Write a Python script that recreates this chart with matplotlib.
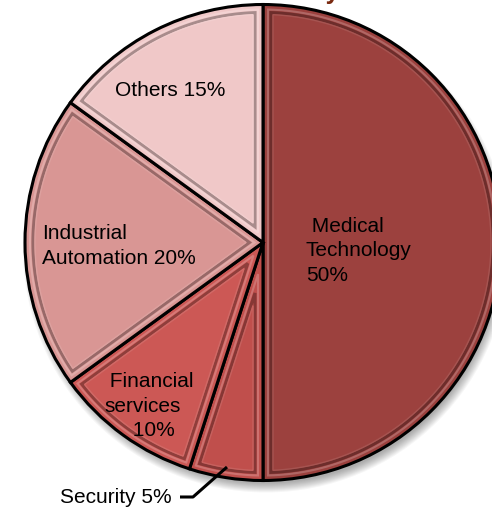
import numpy as np
import matplotlib.pyplot as plt
from matplotlib.patches import Polygon, Circle

plt.rcParams['font.family'] = ['Liberation Sans', 'DejaVu Sans']

# share of business by sector (percent)
sectors = ['Medical Technology', 'Security', 'Financial services',
           'Industrial Automation', 'Others']
shares = [50, 5, 10, 20, 15]
colors = ['#9C413E', '#C04F4C', '#CC5855', '#D99694', '#F0C8C8']
label_fmt = [' Medical\nTechnology\n{}%', 'Security {}%',
             ' Financial\nservices\n     {}%', 'Industrial\nAutomation {}%',
             'Others {}%']

W, H = 492, 509
CX, CY, R = 263, H - 242.5, 238


def shade(c, f):
    rgb = np.array(plt.matplotlib.colors.to_rgb(c))
    if f < 0:
        return tuple(rgb * (1 + f))
    return tuple(rgb + (1 - rgb) * f)


def inset_path(w, d):
    # wedge outline pulled inward by d pixels on every side
    t1, t2 = np.radians(w.theta1), np.radians(w.theta2)
    half = (t2 - t1) / 2
    mid = t1 + half
    cx, cy = w.center
    off = d / np.sin(half) if half < np.pi / 2 else d
    apex = (cx + off * np.cos(mid), cy + off * np.sin(mid))
    da = np.arcsin(d / (w.r - d))
    arc = np.linspace(t1 + da, t2 - da, 120)
    xs = np.r_[apex[0], cx + (w.r - d) * np.cos(arc)]
    ys = np.r_[apex[1], cy + (w.r - d) * np.sin(arc)]
    return np.c_[xs, ys]


fig = plt.figure(figsize=(W / 100, H / 100), dpi=100)
ax = fig.add_axes([0, 0, 1, 1])

# soft drop shadow
for k in range(10):
    ax.add_patch(Circle((CX + 3, CY - 7), R + 5 - k, color='#000000',
                        alpha=0.035, lw=0, zorder=0))

wedges, _ = ax.pie(shares, colors=colors, startangle=90, counterclock=False,
                   center=(CX, CY), radius=R,
                   wedgeprops=dict(edgecolor='black', linewidth=2.2))
for w in wedges:
    w.set_zorder(1)

# bevelled inner frame on each slice
for w, c in zip(wedges, colors):
    ax.add_patch(Polygon(inset_path(w, 5), closed=True, fill=False,
                         edgecolor=shade(c, 0.2), lw=1.5, zorder=2))
    ax.add_patch(Polygon(inset_path(w, 8), closed=True, fill=False,
                         edgecolor=shade(c, -0.3), lw=2.2, zorder=2))
    ax.add_patch(Polygon(inset_path(w, 10), closed=True, fill=False,
                         edgecolor=shade(c, 0.1), lw=1, zorder=2))

# label anchors: left edge and first baseline, in pixels from top-left
anchors = [(306, 232), (60, 503), (104, 387), (42, 239), (115, 96)]
step = 24.5
for fmt, v, (x, y) in zip(label_fmt, shares, anchors):
    for i, line in enumerate(fmt.format(v).split('\n')):
        ax.text(x, H - (y + i * step), line, fontsize=15, color='black',
                ha='left', va='baseline', zorder=5)

# leader for the small slice
ax.plot([180, 193, 227], [H - 497, H - 497, H - 467], color='black',
        lw=2.2, solid_capstyle='butt', zorder=5)

ax.text(340, H + 1.5, 'Industry', fontsize=18, fontweight='bold',
        color='#7A2A10', ha='right', va='baseline')

ax.set_xlim(0, W)
ax.set_ylim(0, H)
ax.set_aspect('auto')
ax.axis('off')

fig.savefig('out.png', dpi=100)
